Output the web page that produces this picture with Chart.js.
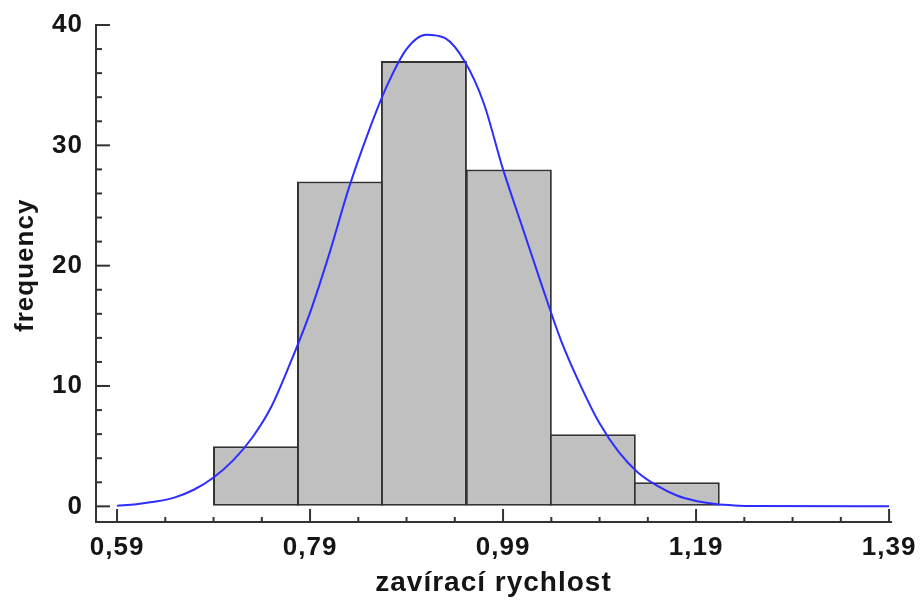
<!DOCTYPE html>
<html>
<head>
<meta charset="utf-8">
<script src="https://cdn.jsdelivr.net/npm/chart.js@4/dist/chart.umd.min.js"></script>
<style>
  html, body { margin: 0; padding: 0; background: #ffffff; }
  #wrap { width: 920px; height: 600px; }
</style>
</head>
<body>
<div id="wrap"><canvas id="chart" width="920" height="600"></canvas></div>
<script>
// Histogram of closing speed: bin centres and counts
const binCenters = [0.734, 0.821, 0.908, 0.996, 1.083, 1.170];
const binCounts  = [5, 27, 37, 28, 6, 2];

// Fitted normal curve, sampled along the axis
const curveX = [0.59, 0.61, 0.63, 0.65, 0.67, 0.69, 0.71, 0.73, 0.75, 0.77,
                0.79, 0.81, 0.83, 0.85, 0.87, 0.89, 0.91, 0.93, 0.95, 0.97,
                0.99, 1.01, 1.03, 1.05, 1.07, 1.09, 1.11, 1.13, 1.15, 1.17,
                1.19, 1.21, 1.23, 1.25, 1.39];
const curveY = [0.05, 0.18, 0.4, 0.75, 1.4, 2.4, 3.8, 5.7, 8.3, 12.0,
                16.1, 21.0, 26.4, 31.0, 35.0, 38.0, 39.2, 38.9, 37.0, 33.5,
                28.0, 23.2, 18.4, 13.8, 10.1, 6.9, 4.5, 2.8, 1.7, 0.9,
                0.45, 0.2, 0.08, 0.03, 0.0];

// Axis tick values (major ones are labelled)
const xTicks = [0.59, 0.79, 0.99, 1.19, 1.39];
const xMinorTicks = [0.64, 0.69, 0.74, 0.84, 0.89, 0.94, 1.04, 1.09, 1.14, 1.24, 1.29, 1.34];
const yTicks = [0, 10, 20, 30, 40];
const yMinorTicks = [2, 4, 6, 8, 12, 14, 16, 18, 22, 24, 26, 28, 32, 34, 36, 38];

const axisColor = '#333333';
const textColor = '#151515';
const fontFamily = "'Liberation Sans', Arial, sans-serif";
const tickFont = { family: fontFamily, weight: 'bold', size: 26 };
const titleFont = { family: fontFamily, weight: 'bold', size: 28 };

// Slightly open letter spacing for all chart text
const textSpacing = {
  id: 'textSpacing',
  beforeLayout(chart) { chart.ctx.letterSpacing = '1px'; },
  beforeDraw(chart) { chart.ctx.letterSpacing = '1px'; }
};

// Inward-pointing tick marks on both axes
const inwardTicks = {
  id: 'inwardTicks',
  afterDatasetsDraw(chart) {
    const { ctx, chartArea: a, scales: { x, y } } = chart;
    ctx.save();
    ctx.strokeStyle = axisColor;
    ctx.lineWidth = 2;
    const mark = (x1, y1, x2, y2) => {
      ctx.beginPath(); ctx.moveTo(x1, y1); ctx.lineTo(x2, y2); ctx.stroke();
    };
    xTicks.forEach(v => { const p = x.getPixelForValue(v); mark(p, a.bottom, p, a.bottom - 13); });
    xMinorTicks.forEach(v => { const p = x.getPixelForValue(v); mark(p, a.bottom, p, a.bottom - 5); });
    yTicks.forEach(v => { const p = y.getPixelForValue(v); mark(a.left, p, a.left + 14, p); });
    yMinorTicks.forEach(v => { const p = y.getPixelForValue(v); mark(a.left, p, a.left + 6, p); });
    ctx.restore();
  }
};

new Chart(document.getElementById('chart'), {
  type: 'bar',
  data: {
    datasets: [
      {
        type: 'line',
        data: curveX.map((v, i) => ({ x: v, y: curveY[i] })),
        borderColor: 'rgb(45, 45, 255)',
        borderWidth: 2,
        pointRadius: 0,
        cubicInterpolationMode: 'monotone',
        fill: false,
        order: 0
      },
      {
        type: 'bar',
        data: binCenters.map((v, i) => ({ x: v, y: binCounts[i] })),
        backgroundColor: '#c0c0c0',
        borderColor: axisColor,
        borderWidth: 2,
        borderSkipped: false,
        categoryPercentage: 1,
        barPercentage: 1.024,
        order: 1
      }
    ]
  },
  options: {
    responsive: false,
    animation: false,
    layout: { padding: { top: 25, right: 29, left: 0, bottom: 0 } },
    plugins: { legend: { display: false }, tooltip: { enabled: false } },
    scales: {
      x: {
        type: 'linear',
        min: 0.5682,
        max: 1.392,
        offset: false,
        afterBuildTicks: s => { s.ticks = xTicks.map(v => ({ value: v })); },
        afterFit: s => { s.height = 78; s.paddingLeft = 0; s.paddingRight = 0; },
        grid: { display: true, offset: false, drawOnChartArea: false, drawTicks: false },
        border: { display: true, color: axisColor, width: 2 },
        ticks: {
          padding: 10,
          color: textColor,
          font: tickFont,
          autoSkip: false,
          maxRotation: 0,
          callback: v => v.toFixed(2).replace('.', ',')
        },
        title: {
          display: true,
          text: 'zavírací rychlost',
          color: textColor,
          font: titleFont,
          padding: { top: 0, bottom: 0 }
        }
      },
      y: {
        type: 'linear',
        min: -1.3,
        max: 40,
        afterBuildTicks: s => { s.ticks = yTicks.map(v => ({ value: v })); },
        afterFit: s => { s.width = 96; s.paddingTop = 0; s.paddingBottom = 0; },
        grid: { display: true, drawOnChartArea: false, drawTicks: false },
        border: { display: true, color: axisColor, width: 2 },
        ticks: {
          padding: 13,
          color: textColor,
          font: tickFont,
          callback: v => String(v)
        },
        title: {
          display: true,
          text: '\u00a0\u00a0frequency',
          color: textColor,
          font: tickFont,
          padding: { top: 10, bottom: 0 }
        }
      }
    }
  },
  plugins: [textSpacing, inwardTicks]
});
</script>
</body>
</html>
